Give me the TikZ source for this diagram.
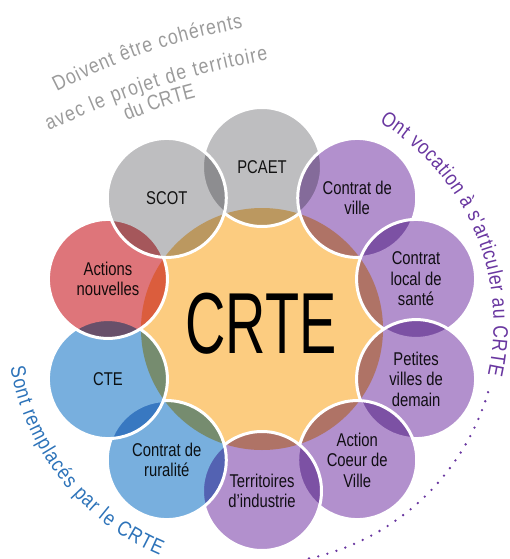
\documentclass[tikz,border=0pt]{standalone}
\usepackage{fontspec}
\setmainfont{Liberation Sans}[FakeStretch=0.8]
\newfontfamily\titrefont{Liberation Sans}[FakeStretch=0.645]
\newfontfamily\arcfont{Liberation Sans}[FakeStretch=0.84]
\usetikzlibrary{decorations.text}

\definecolor{fondcrte}{RGB}{252,204,128}
\definecolor{grisP}{RGB}{190,190,192}
\definecolor{violetP}{RGB}{178,144,205}
\definecolor{bleuP}{RGB}{120,175,222}
\definecolor{rougeP}{RGB}{222,117,122}
\definecolor{texte}{RGB}{25,25,25}
\definecolor{gristexte}{RGB}{155,155,155}
\definecolor{violettexte}{RGB}{105,55,160}
\definecolor{bleutexte}{RGB}{45,115,185}

\newcommand\txtgris{\color{gristexte}\arcfont\fontsize{21}{24}\selectfont}
\newcommand\txtviolet{\color{violettexte}\arcfont\fontsize{21}{24}\selectfont}
\newcommand\txtbleu{\color{bleutexte}\arcfont\fontsize{21}{24}\selectfont}

\begin{document}
\begin{tikzpicture}[x=1pt,y=1pt,
    bulle/.style={circle, minimum size=119pt, inner sep=0pt, align=center,
        fill=#1, blend mode=multiply, text=texte,
        font=\fontsize{18.5}{20.5}\selectfont,
        postaction={draw=white, line width=3pt, blend mode=normal}},
    courbe/.style={decorate, decoration={text along path,
        text align=fit to path, text={#1}}},
    pointille/.style={violettexte, line width=2.6pt, line cap=round,
        dash pattern=on 0pt off 9.5pt}]

    \useasboundingbox (0,0) rectangle (509,-559);
    \coordinate (centre) at (262,-329);
    \coordinate (arcs) at (258,-324);

    % le coeur
    \fill[fondcrte] (centre) circle[radius=121];
    \node (crte) at (261,-324) {\titrefont\fontsize{86.6}{90}\selectfont CRTE};

    % l'anneau, dans le sens des aiguilles d'une montre
    \foreach \a/\nom/\coul/\txt in {
        90/pcaet/grisP/PCAET,
        54/ville/violetP/{Contrat de\\ville},
        18/sante/violetP/{Contrat\\local de\\santé},
        -18/petites/violetP/{Petites\\villes de\\demain},
        -54/coeur/violetP/{Action\\Coeur de\\Ville},
        -90/industrie/violetP/{Territoires\\d'industrie},
        -126/ruralite/bleuP/{Contrat de\\ruralité},
        -162/cte/bleuP/CTE,
        162/actions/rougeP/{Actions\\nouvelles},
        126/scot/grisP/SCOT}
        \node[bulle=\coul] (\nom) at ([shift={(\a:162)}]centre) {\txt};

    % textes en arc
    \path[courbe={|\txtgris|Doivent être cohérents}] (57,-92) to[bend left=8] (243,-28);
    \path[courbe={|\txtgris|avec le projet de territoire}] (49,-131) to[bend left=7] (268,-60);
    \path[courbe={|\txtgris|du CRTE}] (127,-121) to[bend left=4] (196,-98);

    \path[courbe={|\txtviolet|Ont vocation à s'articuler au CRTE}]
        ([shift={(59:235.5)}]arcs) arc[start angle=59, end angle=-12.5, radius=235.5];
    \draw[pointille] ([shift={(-16.5:240)}]arcs) arc[start angle=-16.5, end angle=-86, radius=240];

    \path[courbe={|\txtbleu|Sont remplacés par le CRTE}]
        ([shift={(190:251.5)}]arcs) arc[start angle=190, end angle=247, radius=251.5];
\end{tikzpicture}
\end{document}
